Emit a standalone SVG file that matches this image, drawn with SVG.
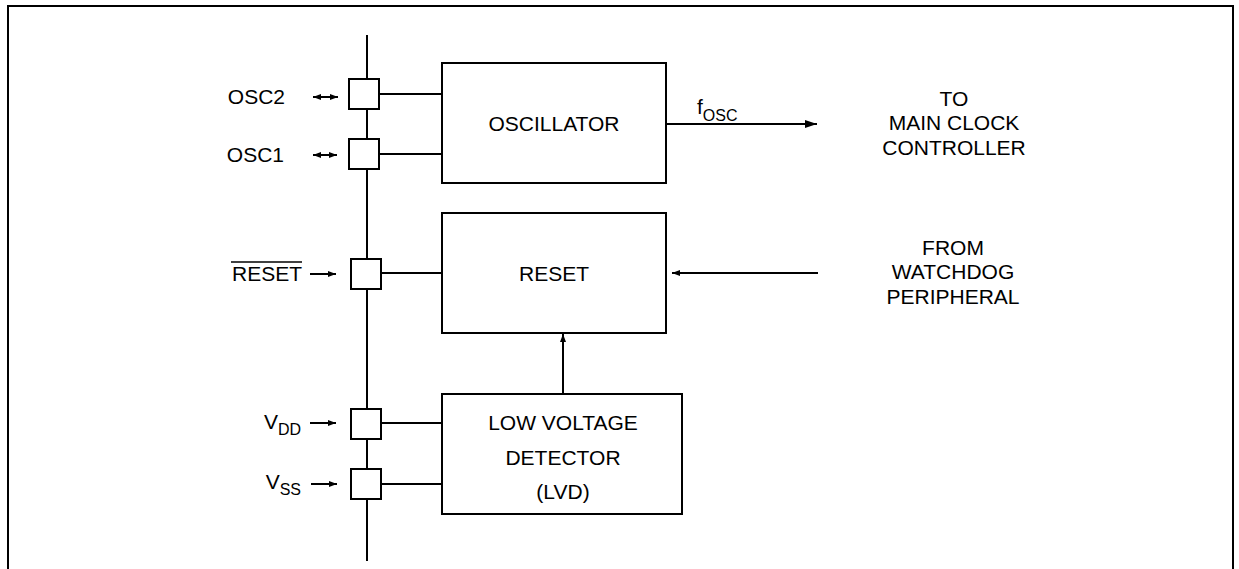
<svg xmlns="http://www.w3.org/2000/svg" width="1239" height="569" viewBox="0 0 1239 569">
<style>
.t{font-family:"Liberation Sans",Arial,sans-serif;font-size:21px;fill:#000}
.s{font-size:16px}
.box{fill:#fff;stroke:#000;stroke-width:2}
.ln{stroke:#000;stroke-width:2;fill:none}
.thin{stroke:#000;stroke-width:1.5;fill:none}
</style>
<defs>
<marker id="ah" markerWidth="12" markerHeight="8" refX="12" refY="4" orient="auto" markerUnits="userSpaceOnUse"><path d="M0,0 L12,4 L0,8 Z" fill="#000"/></marker>
<marker id="sa" markerWidth="8" markerHeight="6" refX="8" refY="3" orient="auto" markerUnits="userSpaceOnUse"><path d="M0,0 L8,3 L0,6 Z" fill="#000"/></marker>
<marker id="sb" markerWidth="8" markerHeight="6" refX="0" refY="3" orient="auto" markerUnits="userSpaceOnUse"><path d="M8,0 L0,3 L8,6 Z" fill="#000"/></marker>
</defs>
<rect width="1239" height="569" fill="#fff"/>
<path class="ln" d="M8,569 V6 H1233 V569"/>
<g id="connectors">
<line class="ln" x1="367" y1="35" x2="367" y2="561"/>
<line class="ln" x1="379" y1="94" x2="442" y2="94"/>
<line class="ln" x1="379" y1="154" x2="442" y2="154"/>
<line class="ln" x1="381" y1="273" x2="442" y2="273"/>
<line class="ln" x1="381" y1="423" x2="442" y2="423"/>
<line class="ln" x1="381" y1="484" x2="442" y2="484"/>
<line class="ln" x1="666" y1="124" x2="817" y2="124" marker-end="url(#ah)"/>
<line class="ln" x1="818" y1="273" x2="672" y2="273" marker-end="url(#sa)"/>
<line class="ln" x1="563" y1="394" x2="563" y2="334" marker-end="url(#sa)"/>
<line class="ln" x1="313" y1="97" x2="338" y2="97" marker-start="url(#sb)" marker-end="url(#sa)"/>
<line class="ln" x1="313" y1="155" x2="337" y2="155" marker-start="url(#sb)" marker-end="url(#sa)"/>
<line class="ln" x1="310" y1="274" x2="336" y2="274" marker-end="url(#sa)"/>
<line class="ln" x1="310" y1="423" x2="336" y2="423" marker-end="url(#sa)"/>
<line class="ln" x1="311" y1="484" x2="337" y2="484" marker-end="url(#sa)"/>
</g>
<g id="pin-osc2"><rect class="box" x="349" y="79" width="30" height="30"/><text class="t" x="285" y="104" text-anchor="end">OSC2</text></g>
<g id="pin-osc1"><rect class="box" x="349" y="139" width="30" height="30"/><text class="t" x="284" y="162" text-anchor="end">OSC1</text></g>
<g id="pin-reset"><rect class="box" x="351" y="259" width="30" height="30"/><text class="t" x="302" y="281" text-anchor="end">RESET</text><line class="thin" x1="231" y1="262" x2="302" y2="262"/></g>
<g id="pin-vdd"><rect class="box" x="351" y="409" width="30" height="30"/><text class="t" x="301" y="429" text-anchor="end">V<tspan class="s" dy="6">DD</tspan></text></g>
<g id="pin-vss"><rect class="box" x="351" y="469" width="30" height="30"/><text class="t" x="301" y="489" text-anchor="end">V<tspan class="s" dy="6">SS</tspan></text></g>
<g id="oscillator"><rect class="box" x="442" y="63" width="224" height="120"/><text class="t" x="554" y="131" text-anchor="middle">OSCILLATOR</text></g>
<g id="reset"><rect class="box" x="442" y="213" width="224" height="120"/><text class="t" x="554" y="281" text-anchor="middle">RESET</text></g>
<g id="lvd"><rect class="box" x="442" y="394" width="240" height="120"/><text class="t" x="563" y="430" text-anchor="middle">LOW VOLTAGE</text><text class="t" x="563" y="465" text-anchor="middle">DETECTOR</text><text class="t" x="563" y="499" text-anchor="middle">(LVD)</text></g>
<g id="fosc"><text class="t" x="697" y="114">f<tspan class="s" dy="7">OSC</tspan></text></g>
<g id="to-main"><text class="t" x="954" y="106" text-anchor="middle">TO</text><text class="t" x="954" y="130" text-anchor="middle">MAIN CLOCK</text><text class="t" x="954" y="155" text-anchor="middle">CONTROLLER</text></g>
<g id="from-wd"><text class="t" x="953" y="255" text-anchor="middle">FROM</text><text class="t" x="953" y="279" text-anchor="middle">WATCHDOG</text><text class="t" x="953" y="304" text-anchor="middle">PERIPHERAL</text></g>
</svg>
